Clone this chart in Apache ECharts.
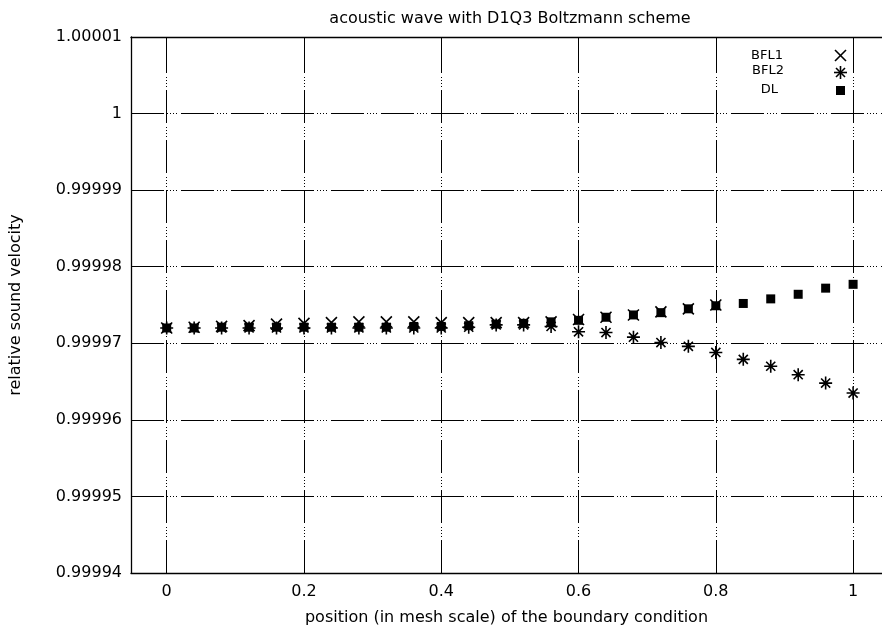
<!DOCTYPE html>
<html>
<head>
<meta charset="utf-8">
<script src="https://cdn.jsdelivr.net/npm/echarts@6/dist/echarts.min.js"></script>
<style>
html,body{margin:0;padding:0;background:#fff;}
#chart{width:882px;height:631px;}
</style>
</head>
<body>
<div id="chart"></div>
<script>
// ---- data ----
var xPositions = [0,0.04,0.08,0.12,0.16,0.2,0.24,0.28,0.32,0.36,0.4,0.44,0.48,0.52,0.56,0.6,0.64,0.68,0.72,0.76,0.8,0.84,0.88,0.92,0.96,1.0];
var bfl1 = [0.9999720,0.9999721,0.9999722,0.9999723,0.9999725,0.9999726,0.9999727,0.9999728,0.9999728,0.9999728,0.9999727,0.9999727,0.9999727,0.9999727,0.9999728,0.9999731,0.9999734,0.9999737,0.9999741,0.9999745,0.9999750];
var bfl2 = [0.9999720,0.9999720,0.9999720,0.9999720,0.9999720,0.9999720,0.9999720,0.9999720,0.9999720,0.9999720,0.9999720,0.9999721,0.9999724,0.9999724,0.9999722,0.9999715,0.9999714,0.9999708,0.9999701,0.9999696,0.9999688,0.9999679,0.9999670,0.9999659,0.9999648,0.9999635];
var dl = [0.9999720,0.9999720,0.9999721,0.9999721,0.9999721,0.9999721,0.9999721,0.9999721,0.9999721,0.9999722,0.9999722,0.9999723,0.9999725,0.9999726,0.9999728,0.9999730,0.9999734,0.9999737,0.9999740,0.9999745,0.9999749,0.9999752,0.9999758,0.9999764,0.9999772,0.9999777];
var xTicks = [0,0.2,0.4,0.6,0.8,1];
var seriesNames = ['BFL1','BFL2','DL'];
var titleText = 'acoustic wave with D1Q3 Boltzmann scheme';
var xName = 'position (in mesh scale) of the boundary condition';
var yName = 'relative sound velocity';

function pairs(ys){ return ys.map(function(v,i){ return [xPositions[i], v]; }); }

var crossPath = 'path://M0,0L10,10M10,0L0,10';
var starPath = 'path://M5,0L5,10M0,5L10,5M1.5,1.5L8.5,8.5M8.5,1.5L1.5,8.5';
var dash = [33,3,1,2,1,2,1,2,1,4];
var XMIN = -0.052, XMAX = 1.0421;

function seg(x1,y1,x2,y2){
  return {type:'line',shape:{x1:x1,y1:y1,x2:x2,y2:y2},style:{stroke:'#000',lineWidth:1.6}};
}
var frameLine = {show:true,onZero:false,lineStyle:{color:'#000',width:1.3}};

var chart = echarts.init(document.getElementById('chart'), null, {renderer:'canvas'});
var option = {
  animation:false,
  backgroundColor:'#fff',
  title:{text:titleText,left:505,textAlign:'center',top:6,textStyle:{fontFamily:'DejaVu Sans',fontSize:16,fontWeight:'normal',color:'#000'}},
  grid:{left:131,top:37,right:0,bottom:58,show:false,outerBoundsMode:'none',containLabel:false},
  xAxis:[{
    type:'value',min:XMIN,max:XMAX,
    name:xName,nameLocation:'middle',nameGap:37,
    nameTextStyle:{fontFamily:'DejaVu Sans',fontSize:16,color:'#000'},
    axisLine:frameLine,
    axisTick:{show:true,inside:true,length:8,customValues:xTicks,lineStyle:{color:'#000'}},
    axisLabel:{show:true,customValues:xTicks,margin:11,fontFamily:'DejaVu Sans',fontSize:16,color:'#000',
      formatter:function(v){return String(parseFloat(v.toFixed(2)));}},
    splitLine:{show:false}
  },{
    type:'value',position:'top',min:XMIN,max:XMAX,
    axisLine:frameLine,
    axisTick:{show:true,inside:true,length:8,customValues:xTicks,lineStyle:{color:'#000'}},
    axisLabel:{show:false},splitLine:{show:false}
  }],
  yAxis:{
    type:'value',min:0.99994,max:1.00001,interval:0.00001,
    name:yName,nameLocation:'middle',nameGap:107,
    nameTextStyle:{fontFamily:'DejaVu Sans',fontSize:16,color:'#000'},
    axisLine:frameLine,
    axisTick:{show:true,inside:true,length:8,lineStyle:{color:'#000'}},
    axisLabel:{margin:9,fontFamily:'DejaVu Sans',fontSize:16,color:'#000',
      formatter:function(v){return String(parseFloat(v.toFixed(5)));}},
    splitLine:{show:true,lineStyle:{color:'#000',width:1,type:dash}}
  },
  series:[
    {name:seriesNames[0],type:'scatter',xAxisIndex:0,data:pairs(bfl1),symbol:crossPath,symbolSize:11,
     itemStyle:{color:'rgba(0,0,0,0)',borderColor:'#000',borderWidth:1.6,opacity:1},z:3,
     markLine:{silent:true,symbol:['none','none'],label:{show:false},animation:false,
       lineStyle:{color:'#000',width:1,type:dash,opacity:1},
       data:xTicks.map(function(t){return {xAxis:t};})}},
    {name:seriesNames[1],type:'scatter',xAxisIndex:0,data:pairs(bfl2),symbol:starPath,symbolSize:13,
     itemStyle:{color:'rgba(0,0,0,0)',borderColor:'#000',borderWidth:1.6,opacity:1},z:4},
    {name:seriesNames[2],type:'scatter',xAxisIndex:0,data:pairs(dl),symbol:'rect',symbolSize:9,
     itemStyle:{color:'#000',opacity:1},z:5}
  ],
  graphic:[
    {type:'text',right:99,top:49,style:{text:seriesNames[0],font:'13px "DejaVu Sans"',fill:'#000'}},
    {type:'text',right:98,top:64,style:{text:seriesNames[1],font:'13px "DejaVu Sans"',fill:'#000'}},
    {type:'text',right:104,top:83,style:{text:seriesNames[2],font:'13px "DejaVu Sans"',fill:'#000'}},
    seg(835,50,846,61), seg(846,50,835,61),
    seg(840.5,66,840.5,79), seg(834,72.5,847,72.5), seg(836,68,845,77), seg(845,68,836,77),
    {type:'rect',shape:{x:836,y:86,width:9,height:9},style:{fill:'#000'}}
  ]
};
chart.setOption(option);
</script>
</body>
</html>
